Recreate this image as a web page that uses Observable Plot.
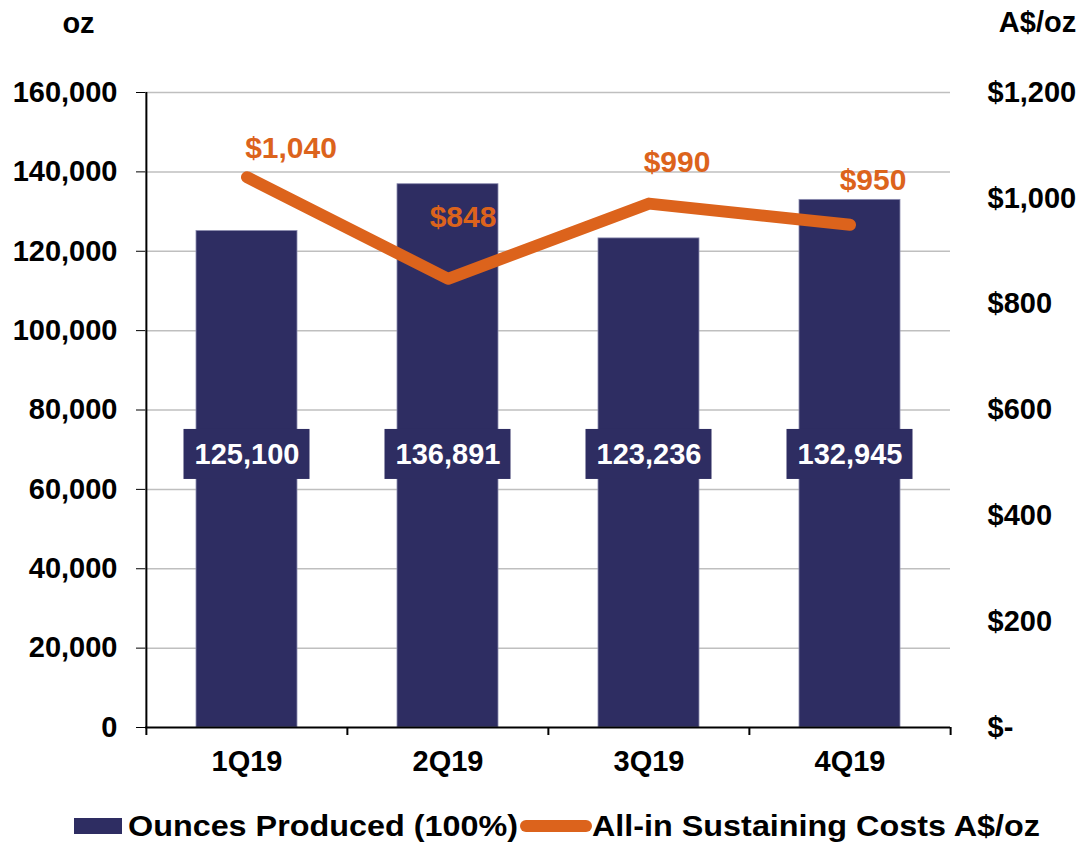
<!DOCTYPE html>
<html>
<head>
<meta charset="utf-8">
<script src="https://cdn.jsdelivr.net/npm/d3@7"></script>
<script src="https://cdn.jsdelivr.net/npm/@observablehq/plot@0.6"></script>
<style>
  html, body { margin: 0; padding: 0; background: #fff; }
  body { width: 1090px; height: 842px; position: relative; overflow: hidden;
         font-family: "Liberation Sans", Arial, sans-serif; font-weight: bold; }
  #chart { position: absolute; left: 0; top: 0; }
  .leg { position: absolute; font-size: 29px; line-height: 32px; color: #000; white-space: nowrap; }
  .txt { transform: scaleX(1.115); transform-origin: left center; }
</style>
</head>
<body>
<div id="chart"></div>
<div class="leg" style="left:74px; top:818px; width:48px; height:16px; background:#2E2D62;"></div>
<div class="leg txt" style="left:128px; top:810px;">Ounces Produced (100%)</div>
<div class="leg" style="left:520px; top:820px; width:72px; height:12px; border-radius:6px; background:#DC631C;"></div>
<div class="leg txt" style="left:592px; top:810px;">All-in Sustaining Costs A$/oz</div>
<script>
// ---- data ----
const quarters = ["1Q19", "2Q19", "3Q19", "4Q19"];
const ounces = [125100, 136891, 123236, 132945];
const aisc = [1040, 848, 990, 950];
const ozTicks = [0, 20000, 40000, 60000, 80000, 100000, 120000, 140000, 160000];
const costTicks = [0, 200, 400, 600, 800, 1000, 1200];

// ---- layout ----
const W = 1090, H = 800;
const mL = 145, mR = 140, mT = 92, mB = 73;
const bw = (W - mL - mR) / quarters.length;
const k = 160000 / 1200; // cost -> oz scale factor
const orange = "#DC631C", navy = "#2E2D62";
const labelOffsets = [[44, -29], [15, -61], [28, -41], [23, -44]];

const data = quarters.map((q, i) => ({q, oz: ounces[i], cost: aisc[i], i}));
const fmtOz = d3.format(",");
const fmtCost = v => v === 0 ? "$-" : "$" + d3.format(",")(v);

const marks = [
  Plot.ruleY(ozTicks.filter(v => v > 0), {stroke: "#BFBFBF", strokeWidth: 1.5}),
  Plot.barY(data, {x: "q", y: "oz", fill: navy, stroke: "#8C8CB0", strokeWidth: 0.8, insetLeft: 50, insetRight: 50}),
  Plot.barY(data, {x: "q", y1: 62500, y2: 75100, fill: navy, insetLeft: 37.5, insetRight: 37.5}),
  Plot.text(data, {x: "q", y: 68800, text: d => fmtOz(d.oz), fill: "white"}),
  Plot.ruleY([0], {stroke: "black", strokeWidth: 2}),
  Plot.ruleX([quarters[0]], {stroke: "black", strokeWidth: 2, dx: -bw / 2}),
  Plot.ruleX(quarters, {y1: 0, y2: 0, insetBottom: -8, stroke: "black", strokeWidth: 2, dx: -bw / 2}),
  Plot.ruleX([quarters[quarters.length - 1]], {y1: 0, y2: 0, insetBottom: -8, stroke: "black", strokeWidth: 2, dx: bw / 2}),
  Plot.line(data, {x: "q", y: d => d.cost * k, stroke: orange, strokeWidth: 12, strokeLinecap: "round", strokeLinejoin: "round"}),
  ...data.map((d, i) => Plot.text([d], {x: "q", y: e => e.cost * k, text: e => fmtCost(e.cost), fill: orange, fontSize: 30,
    dx: labelOffsets[i][0], dy: labelOffsets[i][1]})),
  Plot.axisY({ticks: ozTicks, tickFormat: v => fmtOz(v), tickSize: 9, tickPadding: 19, label: null}),
  Plot.axisY({anchor: "right", ticks: costTicks.map(c => c * k), tickFormat: v => fmtCost(Math.round(v / k)), tickSize: 0, tickPadding: 37, textAnchor: "start", label: null}),
  Plot.axisX({tickSize: 0, tickPadding: 23, label: null}),
  Plot.text(["oz"], {frameAnchor: "top-left", textAnchor: "middle", lineAnchor: "middle", dx: -67, dy: -69}),
  Plot.text(["A$/oz"], {frameAnchor: "top-right", textAnchor: "middle", lineAnchor: "middle", dx: 87, dy: -70})
];

const chart = Plot.plot({
  width: W, height: H,
  marginLeft: mL, marginRight: mR, marginTop: mT, marginBottom: mB,
  style: {fontFamily: '"Liberation Sans", Arial, sans-serif', fontSize: "29px", fontWeight: "bold", color: "#000", background: "#fff"},
  x: {domain: quarters, padding: 0, axis: null},
  y: {domain: [0, 160000], axis: null},
  marks
});
document.getElementById("chart").appendChild(chart);
</script>
</body>
</html>
